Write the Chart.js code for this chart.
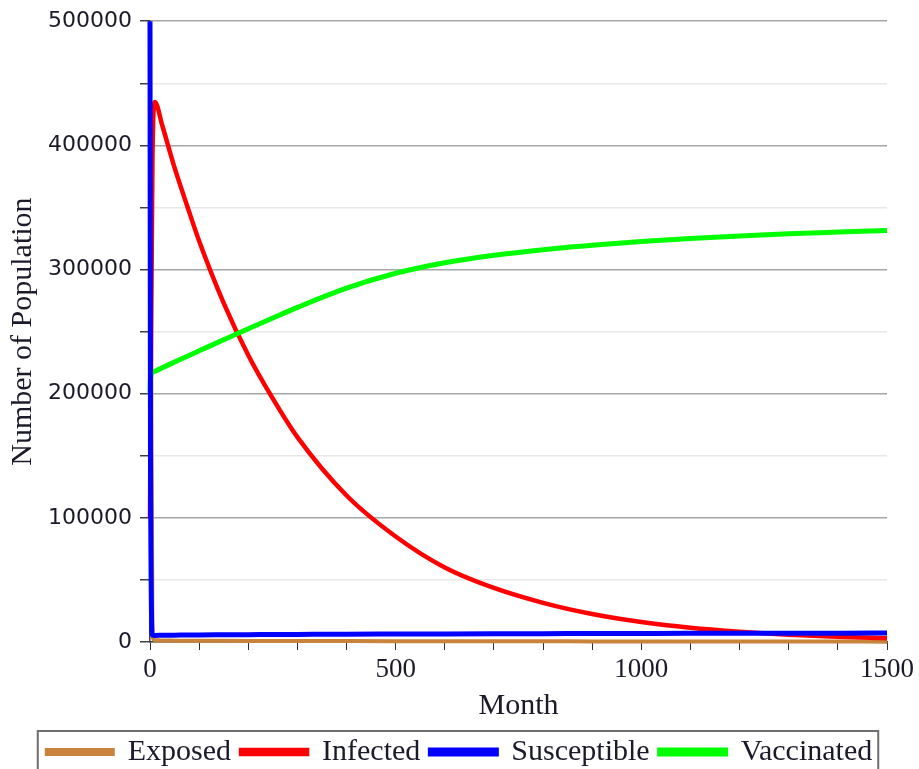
<!DOCTYPE html>
<html>
<head>
<meta charset="utf-8">
<script src="https://cdn.jsdelivr.net/npm/chart.js@4.4.0/dist/chart.umd.min.js"></script>
<style>
  html, body { margin: 0; padding: 0; background: #ffffff; }
  #wrap { width: 919px; height: 769px; position: relative; }
</style>
</head>
<body>
<div id="wrap"><canvas id="c" width="919" height="769"></canvas></div>
<script>
// ---- data ----
const months = [0, 1, 5, 10, 25, 50, 75, 100, 150, 200, 250, 300, 400, 500, 600, 700, 800, 900, 1000, 1100, 1200, 1300, 1400, 1500];
const exposed = [180000, 350000, 5000, 1500, 1200, 1100, 1000, 1000, 950, 900, 850, 800, 750, 700, 650, 600, 550, 500, 450, 400, 380, 350, 330, 300];
const infected = [100000, 170000, 390000, 435000, 416000, 382000, 352000, 323000, 273000, 231000, 196000, 165000, 118000, 85000, 60000, 43500, 31500, 22500, 16100, 11500, 8300, 5900, 4200, 3100];
const susceptible = [500000, 150000, 5500, 5300, 5400, 5500, 5600, 5700, 5800, 5900, 6000, 6100, 6300, 6400, 6500, 6600, 6700, 6800, 6900, 7000, 7000, 7100, 7100, 7200];
const vaccinated = [200000, 212000, 217000, 218000, 220800, 225500, 230000, 234500, 243500, 252300, 261000, 269500, 285000, 297000, 305500, 311500, 316000, 319500, 322500, 325000, 327000, 328800, 330200, 331500];
const seriesNames = ["Exposed", "Infected", "Susceptible", "Vaccinated"];
const yTickLabels = [0, 100000, 200000, 300000, 400000, 500000];
const xTickLabels = [0, 500, 1000, 1500];

const colors = ["#c8843c", "#ff0000", "#0000ff", "#00ff00"];
const widths = [4, 4.5, 5, 5];
const orders = [3, 2, 0, 1];
const seriesData = [exposed, infected, susceptible, vaccinated];

const datasets = seriesNames.map((name, i) => ({
  label: name,
  data: months.map((m, j) => ({ x: m, y: seriesData[i][j] })),
  borderColor: colors[i],
  backgroundColor: colors[i],
  borderWidth: widths[i],
  pointRadius: 0,
  cubicInterpolationMode: 'monotone',
  order: orders[i],
  clip: false
}));

const legendBorder = {
  id: 'legendBorder',
  afterDraw(chart) {
    const lg = chart.legend;
    if (!lg || !lg.legendHitBoxes || !lg.legendHitBoxes.length) return;
    const hb = lg.legendHitBoxes;
    const x0 = hb[0].left - 9;
    const last = hb[hb.length - 1];
    const x1 = last.left + last.width + 6;
    const y0 = hb[0].top - 6;
    const ctx = chart.ctx;
    ctx.save();
    ctx.strokeStyle = '#6e6e6e';
    ctx.lineWidth = 2;
    ctx.strokeRect(x0, y0, x1 - x0, 60);
    ctx.restore();
  }
};

const serif = '"Liberation Serif", "Times New Roman", serif';

new Chart(document.getElementById('c'), {
  type: 'line',
  data: { datasets },
  plugins: [legendBorder],
  options: {
    responsive: false,
    animation: false,
    layout: { padding: { left: 0, right: 0, top: 19, bottom: -8 } },
    plugins: {
      tooltip: { enabled: false },
      legend: {
        position: 'bottom',
        labels: {
          boxWidth: 66,
          boxHeight: 4,
          padding: 10,
          color: '#1a1a2a',
          font: { family: serif, size: 30 },
          sort: (a, b) => a.datasetIndex - b.datasetIndex
        }
      }
    },
    scales: {
      x: {
        type: 'linear',
        min: 0,
        max: 1500,
        afterFit(scale) { scale.height = 85; },
        border: { display: true, color: '#404040', width: 1.5 },
        grid: { drawOnChartArea: false, drawTicks: true, tickLength: 8, color: '#303030' },
        ticks: {
          stepSize: 100,
          autoSkip: false,
          maxRotation: 0,
          padding: 4,
          color: '#1a1a2a',
          font: { family: serif, size: 27 },
          callback: (v) => xTickLabels.includes(v) ? String(v) : ''
        },
        title: {
          display: true,
          text: 'Month',
          color: '#1a1a2a',
          font: { family: serif, size: 30 },
          padding: { top: 0, bottom: 3 }
        }
      },
      y: {
        type: 'linear',
        min: 0,
        max: 500000,
        afterFit(scale) { scale.width = 150; },
        border: { display: true, color: '#404040', width: 1.5 },
        grid: {
          drawTicks: true,
          tickLength: 10,
          color: (ctx) => (ctx.tick && ctx.tick.value % 100000 === 0) ? '#a6a6a6' : '#e8e8e8',
          tickColor: '#404040',
          lineWidth: 1.5
        },
        ticks: {
          stepSize: 50000,
          autoSkip: false,
          padding: 8,
          color: '#1a1a2a',
          font: { family: '"DejaVu Sans", sans-serif', size: 22 },
          callback: (v) => yTickLabels.includes(v) ? String(v) : ''
        },
        title: {
          display: true,
          text: 'Number of Population',
          color: '#1a1a2a',
          font: { family: serif, size: 30 },
          padding: { top: 5, bottom: 0 }
        }
      },
      rightSpace: {
        type: 'linear',
        position: 'right',
        min: 0,
        max: 1,
        afterFit(scale) { scale.width = 32; },
        border: { display: false },
        grid: { display: false, drawOnChartArea: false, drawTicks: false },
        ticks: { display: false }
      }
    }
  }
});
</script>
</body>
</html>
